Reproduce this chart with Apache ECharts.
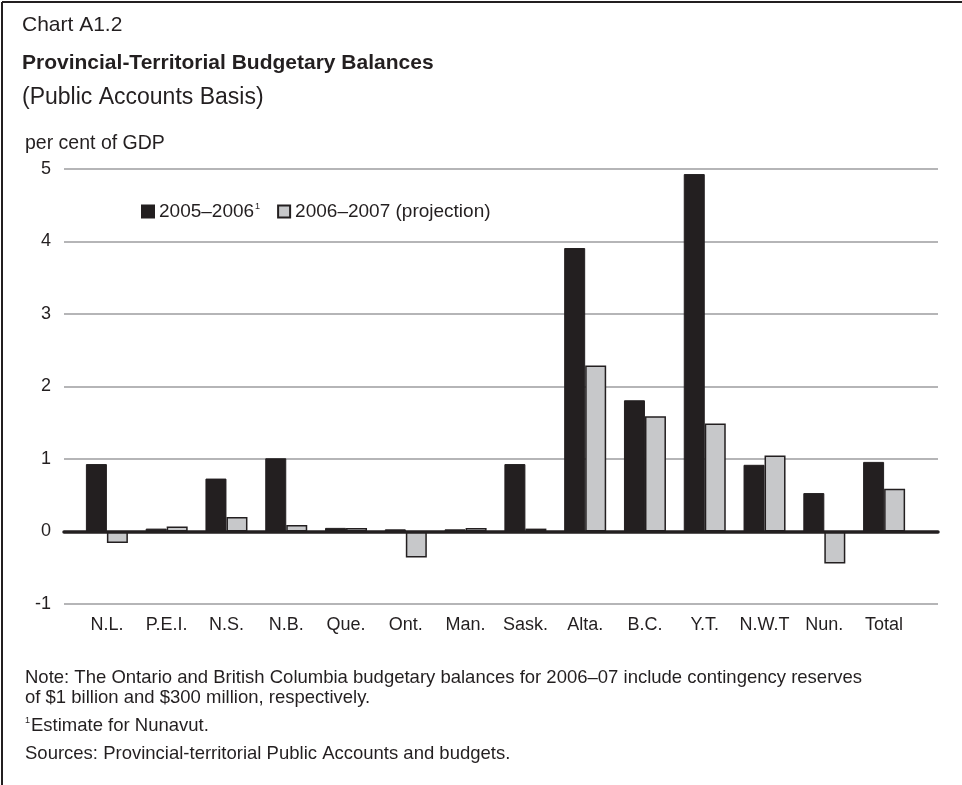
<!DOCTYPE html>
<html>
<head>
<meta charset="utf-8">
<script src="https://cdn.jsdelivr.net/npm/echarts@6/dist/echarts.min.js"></script>
<style>
html,body{margin:0;padding:0;background:#fff;}
#chart{width:962px;height:785px;}
</style>
</head>
<body>
<div id="chart"></div>
<script>
var categories = ['N.L.', 'P.E.I.', 'N.S.', 'N.B.', 'Que.', 'Ont.', 'Man.', 'Sask.', 'Alta.', 'B.C.', 'Y.T.', 'N.W.T', 'Nun.', 'Total'];
var series2005 = [0.93, 0.04, 0.73, 1.01, 0.05, 0.03, 0.03, 0.93, 3.91, 1.81, 4.93, 0.92, 0.53, 0.96];
var series2006 = [-0.16, 0.07, 0.20, 0.09, 0.05, -0.36, 0.05, 0.04, 2.29, 1.59, 1.49, 1.05, -0.44, 0.59];
var seriesNames = ['2005\u20132006', '2006\u20132007 (projection)'];
var yTicks = [-1, 0, 1, 2, 3, 4, 5];

var FONT = '"Liberation Sans", Arial, Helvetica, sans-serif';
var TXT = '#231f20';
var chart = echarts.init(document.getElementById('chart'), null, {renderer: 'canvas'});

var option = {
  backgroundColor: '#ffffff',
  animation: false,
  textStyle: {fontFamily: FONT, color: TXT},
  grid: [
    {left: 64, right: 24, top: 169, bottom: 181},
    {left: 77, right: 48, top: 169, bottom: 181}
  ],
  legend: {
    left: 141, top: 202, padding: 0,
    itemWidth: 12, itemHeight: 12, itemGap: 17,
    icon: 'rect',
    data: seriesNames,
    textStyle: {
      fontFamily: FONT, fontSize: 19, color: TXT,
      rich: {sup: {fontSize: 9, verticalAlign: 'top', padding: [0, 0, 10, 1], color: TXT, fontFamily: FONT}}
    },
    formatter: function (name) {
      return name === seriesNames[0] ? name + '{sup|1}' : name;
    }
  },
  xAxis: [
    {
      gridIndex: 0, type: 'value', min: 0, max: 1, z: 10,
      axisLine: {show: true, onZero: true, lineStyle: {color: '#231f20', width: 3.5}},
      axisTick: {show: false}, axisLabel: {show: false}, splitLine: {show: false}
    },
    {
      gridIndex: 1, type: 'category', data: categories,
      axisLine: {show: false, onZero: false}, axisTick: {show: false},
      axisLabel: {fontFamily: FONT, fontSize: 18, color: TXT, margin: 12, interval: 0},
      splitLine: {show: false}
    }
  ],
  yAxis: [
    {
      gridIndex: 0, type: 'value', min: yTicks[0], max: yTicks[yTicks.length - 1], interval: 1,
      axisLine: {show: false}, axisTick: {show: false},
      axisLabel: {fontFamily: FONT, fontSize: 18, color: TXT, margin: 13},
      splitLine: {show: true, lineStyle: {color: '#9d9d9f', width: 1.5}}
    },
    {
      gridIndex: 1, type: 'value', min: yTicks[0], max: yTicks[yTicks.length - 1], interval: 1,
      show: false, splitLine: {show: false}
    }
  ],
  series: [
    {
      name: seriesNames[0], type: 'bar', xAxisIndex: 1, yAxisIndex: 1,
      data: series2005, barWidth: 21, barGap: '0%',
      itemStyle: {color: '#231f20', borderColor: '#231f20', borderWidth: 1}
    },
    {
      name: seriesNames[1], type: 'bar', xAxisIndex: 1, yAxisIndex: 1,
      data: series2006, barWidth: 21, barGap: '0%',
      itemStyle: {color: '#c7c8ca', borderColor: '#231f20', borderWidth: 1.5}
    }
  ],
  graphic: [
    {type: 'line', shape: {x1: 2, y1: 2, x2: 962, y2: 2}, style: {stroke: '#231f20', lineWidth: 2}},
    {type: 'line', shape: {x1: 2, y1: 2, x2: 2, y2: 785}, style: {stroke: '#231f20', lineWidth: 2}},
    {type: 'text', left: 22, top: 15, style: {text: 'Chart A1.2', font: '21px ' + FONT, fill: TXT}},
    {type: 'text', left: 22, top: 53, style: {text: 'Provincial-Territorial Budgetary Balances', font: 'bold 21px ' + FONT, fill: TXT}},
    {type: 'text', left: 22, top: 86, style: {text: '(Public Accounts Basis)', font: '23px ' + FONT, fill: TXT}},
    {type: 'text', left: 25, top: 134, style: {text: 'per cent of GDP', font: '19.5px ' + FONT, fill: TXT}},
    {type: 'text', left: 25, top: 668, style: {text: 'Note: The Ontario and British Columbia budgetary balances for 2006\u201307 include contingency reserves', font: '18.5px ' + FONT, fill: TXT}},
    {type: 'text', left: 25, top: 688, style: {text: 'of $1 billion and $300 million, respectively.', font: '18.5px ' + FONT, fill: TXT}},
    {type: 'text', left: 25, top: 716, style: {
      text: '{s|1}Estimate for Nunavut.', font: '18.5px ' + FONT, fill: TXT,
      rich: {s: {fontSize: 9, verticalAlign: 'top', padding: [0, 1, 9, 0], fill: TXT, fontFamily: FONT}}
    }},
    {type: 'text', left: 25, top: 744, style: {text: 'Sources: Provincial-territorial Public Accounts and budgets.', font: '18.5px ' + FONT, fill: TXT}}
  ]
};
chart.setOption(option);
</script>
</body>
</html>
